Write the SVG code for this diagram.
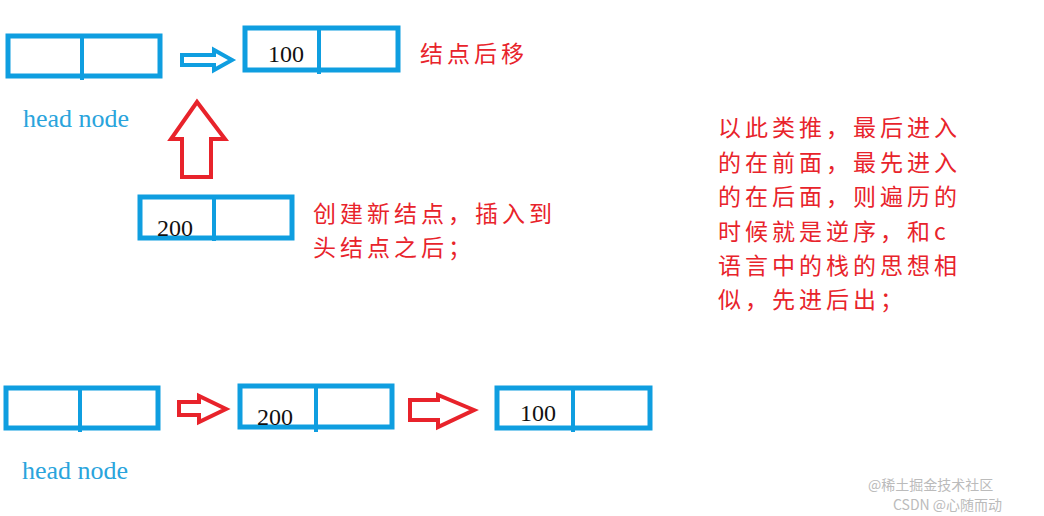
<svg xmlns="http://www.w3.org/2000/svg" width="1044" height="516" viewBox="0 0 1044 516">
<style>
.box{fill:none;stroke:#0f9ee0;stroke-width:5}
.div{stroke:#0f9ee0;stroke-width:4}
.num{font-family:"Liberation Serif",serif;font-size:24px;fill:#111}
.hn{font-family:"Liberation Serif",serif;font-size:26px;fill:#2aa4dc}
.red{font-family:"Noto Sans CJK SC",sans-serif;font-size:23px;fill:#e8232b;letter-spacing:4px}
.ra{fill:none;stroke:#e8232b;stroke-width:4;stroke-linejoin:miter}
.ba{fill:none;stroke:#0f9ee0;stroke-width:4}
.wm{font-family:"Noto Sans CJK SC",sans-serif;font-size:14px;fill:#bbb}
</style>
<rect width="1044" height="516" fill="#fff"/>
<g id="head1"><rect class="box" x="8" y="36" width="152" height="40"/><line class="div" x1="82" y1="36" x2="82" y2="80"/></g>
<text class="hn" x="23" y="127">head node</text>
<g id="n100top"><rect class="box" x="245" y="28" width="153" height="42"/><line class="div" x1="319" y1="28" x2="319" y2="74"/><text class="num" x="268" y="62">100</text></g>
<text class="red" x="420" y="62">结点后移</text>
<g id="n200mid"><rect class="box" x="140" y="197" width="152" height="41"/><line class="div" x1="214" y1="197" x2="214" y2="241"/><text class="num" x="157" y="236">200</text></g>
<text class="red" x="313" y="222">创建新结点，插入到</text>
<text class="red" x="313" y="256">头结点之后；</text>
<g class="red">
<text x="718" y="136">以此类推，最后进入</text>
<text x="718" y="171">的在前面，最先进入</text>
<text x="718" y="205">的在后面，则遍历的</text>
<text x="718" y="240">时候就是逆序，和c</text>
<text x="718" y="274">语言中的栈的思想相</text>
<text x="718" y="308">似，先进后出；</text>
</g>
<g id="head2"><rect class="box" x="6" y="388" width="152" height="40"/><line class="div" x1="80" y1="388" x2="80" y2="432"/></g>
<text class="hn" x="22" y="479">head node</text>
<g id="n200b"><rect class="box" x="240" y="386" width="152" height="41"/><line class="div" x1="316" y1="386" x2="316" y2="432"/><text class="num" x="257" y="425">200</text></g>
<g id="n100b"><rect class="box" x="497" y="388" width="153" height="40"/><line class="div" x1="573" y1="388" x2="573" y2="432"/><text class="num" x="520" y="421">100</text></g>
<g id="connectors">
<path class="ba" d="M182,55 H214 V50 L232,60 L214,70 V65 H182 Z"/>
<path class="ra" d="M182,177 V139 H171 L197,102 L225,139 H211 V177 Z"/>
<path class="ra" d="M179,402 H199 V396 L226,409 L199,422 V415 H179 Z"/>
<path class="ra" d="M410,400 H438 V395 L474,410 L438,427 V420 H410 Z"/>
</g>
<text class="wm" x="868" y="490">@稀土掘金技术社区</text>
<text class="wm" x="893" y="510">CSDN @心随而动</text>
</svg>
